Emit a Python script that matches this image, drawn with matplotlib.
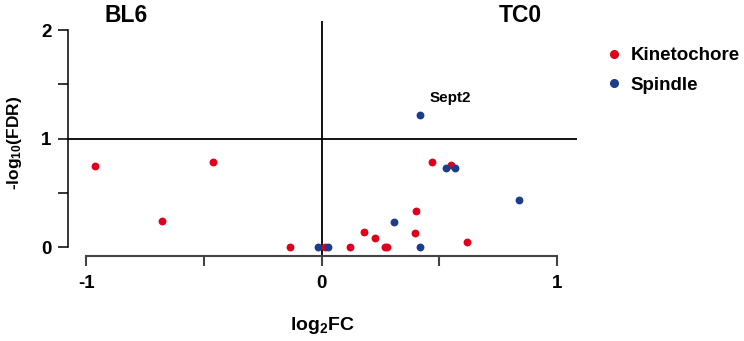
import matplotlib
matplotlib.use("Agg")
from matplotlib import pyplot as plt
from matplotlib.lines import Line2D

plt.rcParams['font.family'] = ['Liberation Sans', 'DejaVu Sans']
plt.rcParams['font.weight'] = 'bold'
plt.rcParams['mathtext.fontset'] = 'custom'
plt.rcParams['mathtext.rm'] = 'Liberation Sans:bold'
plt.rcParams['mathtext.bf'] = 'Liberation Sans:bold'
plt.rcParams['mathtext.default'] = 'rm'

RED = "#E1001B"
BLUE = "#1C3D8E"

# Kinetochore genes (log2FC, -log10 FDR)
kin_fc = [-0.962, -0.460, -0.677, -0.134, 0.014, 0.120, 0.180, 0.228,
          0.269, 0.278, 0.396, 0.402, 0.469, 0.548, 0.618]
kin_fdr = [0.745, 0.788, 0.239, 0.0, 0.0, 0.0, 0.138, 0.088,
           0.0, 0.0, 0.129, 0.331, 0.785, 0.755, 0.052]

# Spindle genes
spi_fc = [-0.017, 0.028, 0.308, 0.418, 0.418, 0.528, 0.565, 0.839]
spi_fdr = [0.0, 0.0, 0.236, 0.0, 1.220, 0.733, 0.733, 0.435]

label_gene = "Sept2"
label_fc, label_fdr = 0.418, 1.220

fig = plt.figure(figsize=(7.44, 3.41), dpi=100)
ax = fig.add_axes([68 / 744, 1 - 265 / 341, 509 / 744, 244.3 / 341])

ax.set_xlim(-1.077, 1.084)
ax.set_ylim(-0.163, 2.086)

# threshold / centre lines
ax.axhline(1, color="black", lw=1.3, zorder=1)
ax.axvline(0, color="black", lw=1.3, zorder=1)

ax.scatter(kin_fc, kin_fdr, s=32, color=RED, linewidths=0, zorder=3)
ax.scatter(spi_fc, spi_fdr, s=32, color=BLUE, linewidths=0, zorder=4)

ax.annotate(label_gene, (label_fc, label_fdr), xytext=(7, 7),
            textcoords="offset points", fontsize=11, fontweight="bold",
            ha="left", va="bottom")

# R style detached axes
for s in ["top", "right"]:
    ax.spines[s].set_visible(False)
ax.spines["left"].set_bounds(0, 2)
ax.spines["bottom"].set_bounds(-1, 1)
ax.spines["bottom"].set_position(("data", -0.08))
ax.spines["left"].set_linewidth(1.1)
ax.spines["bottom"].set_linewidth(1.5)
ax.spines["bottom"].set_color("#444444")

ax.set_xticks([-1, -0.5, 0, 0.5, 1])
ax.set_xticklabels(["-1", "", "0", "", "1"])
ax.set_yticks([0, 0.5, 1, 1.5, 2])
ax.set_yticklabels(["0", "", "1", "", "2"])
ax.tick_params(axis="both", length=7, width=1.1, labelsize=13.5, pad=5)
ax.tick_params(axis="x", color="#444444", width=1.5, pad=7)

ax.set_xlabel("log$_2$FC", fontsize=14, fontweight="bold", labelpad=16)
ax.set_ylabel("-log$_{10}$(FDR)", fontsize=12.5, fontweight="bold", labelpad=12)

fig.text(126 / 744, 1 - 15 / 341, "BL6", fontsize=16.5, fontweight="bold",
         ha="center", va="center")
fig.text(520 / 744, 1 - 15 / 341, "TC0", fontsize=16.5, fontweight="bold",
         ha="center", va="center")

handles = [
    Line2D([], [], marker="o", ls="", color=RED, markersize=5.5),
    Line2D([], [], marker="o", ls="", color=BLUE, markersize=5.5),
]
fig.legend(handles, ["Kinetochore", "Spindle"], loc="upper left",
           bbox_to_anchor=(597 / 744, 1 - 38 / 341), frameon=False,
           fontsize=13.5, handlelength=0.8, handletextpad=0.5,
           labelspacing=0.65, borderpad=0)

fig.savefig("out.png", dpi=100)
